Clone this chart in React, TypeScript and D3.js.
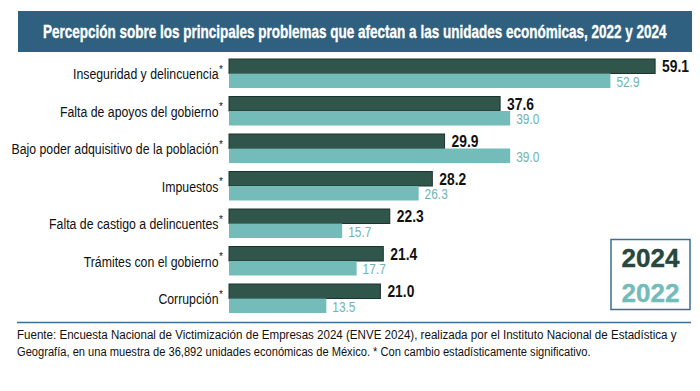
import React, { useLayoutEffect, useRef, useState } from "react";
import * as d3 from "d3";

const categories = [
  "Inseguridad y delincuencia",
  "Falta de apoyos del gobierno",
  "Bajo poder adquisitivo de la población",
  "Impuestos",
  "Falta de castigo a delincuentes",
  "Trámites con el gobierno",
  "Corrupción",
];
const values2024 = [59.1, 37.6, 29.9, 28.2, 22.3, 21.4, 21.0];
const values2022 = [52.9, 39.0, 39.0, 26.3, 15.7, 17.7, 13.5];
const seriesNames = ["2024", "2022"];
const title =
  "Percepción sobre los principales problemas que afectan a las unidades económicas, 2022 y 2024";
const footer1 =
  "Fuente: Encuesta Nacional de Victimización de Empresas 2024 (ENVE 2024), realizada por el Instituto Nacional de Estadística y";
const footer2 =
  "Geografía, en una muestra de 36,892 unidades económicas de México. * Con cambio estadísticamente significativo.";

const W = 700;
const H = 391;
const DARK = "#30564b";
const DARK_STROKE = "#1d332d";
const LIGHT = "#74bcb9";
const LIGHT_TEXT = "#6fb4b1";
const BLUE = "#30607f";
const SANS = "'Liberation Sans', Arial, sans-serif";
const SX = 0.82;

function NText({
  x,
  y,
  anchor = "start",
  sx = SX,
  children,
  ...rest
}: any) {
  return (
    <g transform={`translate(${x},${y}) scale(${sx},1)`}>
      <text x={0} y={0} textAnchor={anchor} fontFamily={SANS} {...rest}>
        {children}
      </text>
    </g>
  );
}

function FitText({ x, y, width, children, ...rest }: any) {
  const ref = useRef<SVGTextElement>(null);
  const [s, setS] = useState(0.8);
  useLayoutEffect(() => {
    if (ref.current) {
      const len = ref.current.getComputedTextLength();
      if (len > 0) setS(width / len);
    }
  }, [width, children]);
  return (
    <g transform={`translate(${x},${y}) scale(${s},1)`}>
      <text ref={ref} x={0} y={0} fontFamily={SANS} {...rest}>
        {children}
      </text>
    </g>
  );
}

export default function App() {
  const y = d3
    .scaleBand<string>()
    .domain(categories)
    .range([54.75, 317.25])
    .paddingInner(0.227)
    .paddingOuter(0.1135);
  const sub = d3.scaleBand<string>().domain(seriesNames).range([0, y.bandwidth()]);
  const x = d3.scaleLinear().domain([0, 60]).range([229, 229 + 60 * 7.21]);
  const fmt = d3.format(".1f");

  return (
    <svg
      width={W}
      height={H}
      style={{ position: "absolute", left: 0, top: 0, background: "#fff" }}
    >
      <rect x={18} y={11} width={674} height={41} fill={BLUE} />
      <FitText
        x={43}
        y={37.5}
        width={623}
        fill="#fff"
        stroke="#fff"
        strokeWidth={0.35}
        fontWeight="bold"
        fontSize={17.5}
      >
        {title}
      </FitText>

      {categories.map((c, i) => {
        const y0 = y(c)!;
        const yd = y0 + sub("2024")!;
        const yl = y0 + sub("2022")!;
        const bh = sub.bandwidth();
        return (
          <g key={c}>
            <NText
              x={218.5}
              y={y0 + y.bandwidth() / 2 + 5.5}
              anchor="end"
              fontSize={15}
              fill="#111"
            >
              {c}
            </NText>
            <text x={219} y={y0 + y.bandwidth() / 2 - 1} fontFamily={SANS} fontSize={10} fill="#111">
              *
            </text>
            <rect
              x={x(0)}
              y={yd}
              width={x(values2024[i]) - x(0)}
              height={bh}
              fill={DARK}
              stroke={DARK_STROKE}
              strokeWidth={1}
            />
            <rect
              x={x(0)}
              y={yl}
              width={x(values2022[i]) - x(0)}
              height={bh}
              fill={LIGHT}
            />
            <NText
              x={x(values2024[i]) + 7}
              y={yd + bh / 2 + 6}
              sx={0.84}
              fontWeight="bold"
              fontSize={16.5}
              fill="#111"
            >
              {fmt(values2024[i])}
            </NText>
            <NText
              x={x(values2022[i]) + 6}
              y={yl + bh / 2 + 6}
              fontSize={14.5}
              fill={LIGHT_TEXT}
            >
              {fmt(values2022[i])}
            </NText>
          </g>
        );
      })}

      <rect x={611} y={239.5} width={79} height={70} fill="none" stroke="#3a6f96" strokeWidth={1.5} />
      <text x={650.5} y={267} textAnchor="middle" fontFamily={SANS} fontWeight="bold" fontSize={26} fill="#28473e" stroke="#28473e" strokeWidth={0.4}>
        {seriesNames[0]}
      </text>
      <text x={650.5} y={302} textAnchor="middle" fontFamily={SANS} fontWeight="bold" fontSize={26} fill={LIGHT} stroke={LIGHT} strokeWidth={0.4}>
        {seriesNames[1]}
      </text>

      <line x1={17} x2={691} y1={322.5} y2={322.5} stroke="#3a6f96" strokeWidth={1.5} />
      <FitText x={17} y={338.5} width={660} fontSize={13.5} fill="#111">
        {footer1}
      </FitText>
      <FitText x={17} y={355.5} width={574} fontSize={13.5} fill="#111">
        {footer2}
      </FitText>
    </svg>
  );
}
